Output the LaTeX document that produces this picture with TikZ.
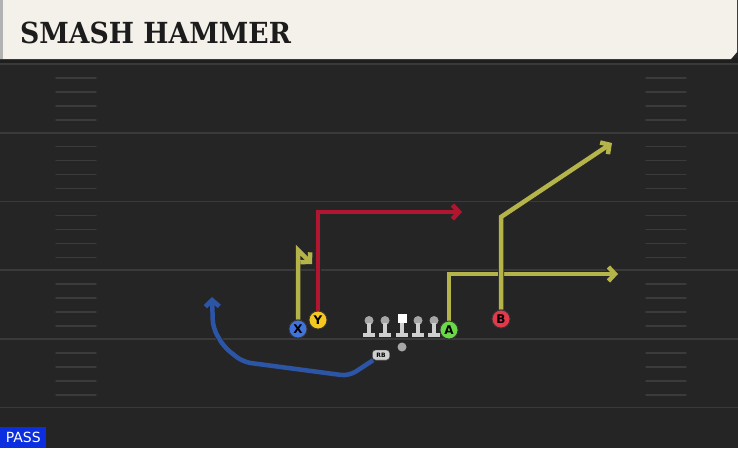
\documentclass[tikz,border=0pt]{standalone}
\usepackage{fontspec}
\setmainfont{DejaVu Sans}
\newfontfamily\titlefont{DejaVu Serif}
\usetikzlibrary{arrows.meta}

\definecolor{field}{HTML}{252525}
\definecolor{yardgray}{HTML}{3A3A3A}
\definecolor{hashgray}{HTML}{3B3B3B}
\definecolor{titlecream}{HTML}{F4F1EA}
\definecolor{titleink}{HTML}{1C1C1C}
\definecolor{routeolive}{HTML}{B4B44A}
\definecolor{routered}{HTML}{B0162F}
\definecolor{routeblue}{HTML}{2D55A5}
\definecolor{xblue}{HTML}{4174DA}
\definecolor{yyellow}{HTML}{F5C81F}
\definecolor{agreen}{HTML}{6BD84A}
\definecolor{bred}{HTML}{E23A4B}
\definecolor{passblue}{HTML}{0A2EE0}
\definecolor{linegray}{HTML}{CFCFCF}

\tikzset{
  route/.style={line width=4.5pt, -{Straight Barb[length=6.5pt,width=14pt]},
    preaction={draw=black!85, line width=6pt}},
  player/.style={circle, draw=black!80, line width=0.8pt, minimum size=18pt,
    inner sep=0pt, font=\bfseries\fontsize{12}{12}\selectfont},
  yardline/.style={draw=yardgray, line width=1.6pt},
  hashmark/.style={draw=hashgray, line width=1.4pt, line cap=round}
}

\begin{document}
\begin{tikzpicture}[x=1pt, y=-1pt]
    % Field
    \fill[field] (0,0) rectangle (738,448);
    \useasboundingbox (0,0) rectangle (738,448);

    % Yard lines and hashes
    \foreach \k in {0,...,5} {
        \pgfmathsetmacro\yy{64+68.7*\k}
        \draw[yardline] (0,\yy) -- (738,\yy);
    }
    \foreach \k in {0,...,4} {
        \foreach \d in {14,28,42,56} {
            \pgfmathsetmacro\yy{64+68.7*\k+\d}
            \draw[hashmark] (56,\yy) -- (96,\yy);
            \draw[hashmark] (646,\yy) -- (686,\yy);
        }
    }

    % Title bar
    \fill[black!88] (0,58) rectangle (738,63);
    \fill[titlecream] (0,0) -- (737,0) -- (737,52) -- (731,59) -- (0,59) -- cycle;
    \fill[gray!60] (0,0) rectangle (3,59);
    \node[anchor=base west, inner sep=0pt, text=titleink, xscale=0.92,
          font=\titlefont\bfseries\fontsize{29}{29}\selectfont] (title) at (20,43) {SMASH HAMMER};

    % Line
    \foreach \x in {369,385,418,434} {
        \fill[gray!70] (\x,320.5) circle (4.5);
        \fill[linegray] (\x-2,323) rectangle (\x+2,333);
        \fill[linegray] (\x-6,332.5) rectangle (\x+6,337);
    }
    \fill[white] (397.5,313.5) rectangle (406.5,322.5);
    \fill[linegray] (400,322.5) rectangle (404,333);
    \fill[linegray] (396,332.5) rectangle (408,337);
    \node[circle, fill=gray!70, minimum size=9pt, inner sep=0pt] (qb) at (402,347) {};

    % Players
    \node[player, fill=xblue] (X) at (298,329) {X};
    \node[player, fill=yyellow] (Y) at (318,320) {Y};
    \node[player, fill=agreen] (A) at (449,330) {A};
    \node[player, fill=bred] (B) at (501,319) {B};
    \node[fill=linegray, draw=black!80, rounded corners=3pt, inner sep=0pt,
          minimum width=17pt, minimum height=10pt,
          font=\bfseries\fontsize{6}{6}\selectfont] (RB) at (381,355) {RB};

    % Route breaks
    \coordinate (xcut) at (298,250);
    \coordinate (xend) at (312,264);
    \coordinate (ycut) at (318,212);
    \coordinate (yend) at (462,212);
    \coordinate (acut) at (449,274);
    \coordinate (aend) at (618,274);
    \coordinate (bcut) at (501,217);
    \coordinate (bend) at (612,143);
    \coordinate (r1) at (349,376);
    \coordinate (r2) at (243,362);
    \coordinate (r3) at (224,347);
    \coordinate (r4) at (213,328);
    \coordinate (rend) at (212,297);

    % Routes
    \draw[route, routeolive] (X) -- (xcut) -- (xend);
    \draw[route, routered] (Y) -- (ycut) -- (yend);
    \draw[route, routeolive] (A) -- (acut) -- (aend);
    \draw[route, routeolive] (B) -- (bcut) -- (bend);
    \draw[route, routeblue, rounded corners=8pt] (RB) -- (r1) -- (r2) -- (r3) -- (r4) -- (rend);

    % Players on top
    \node[player, fill=xblue] at (X) {X};
    \node[player, fill=yyellow] at (Y) {Y};
    \node[player, fill=agreen] at (A) {A};
    \node[player, fill=bred] at (B) {B};
    \node[fill=linegray, draw=black!80, rounded corners=3pt, inner sep=0pt,
          minimum width=17pt, minimum height=10pt,
          font=\bfseries\fontsize{6}{6}\selectfont] at (RB) {RB};

    % Play type
    \node[anchor=south west, fill=passblue, text=white, minimum width=46pt,
          minimum height=21pt, inner sep=0pt, font=\fontsize{14}{14}\selectfont] (play) at (0,448) {PASS};
\end{tikzpicture}
\end{document}
